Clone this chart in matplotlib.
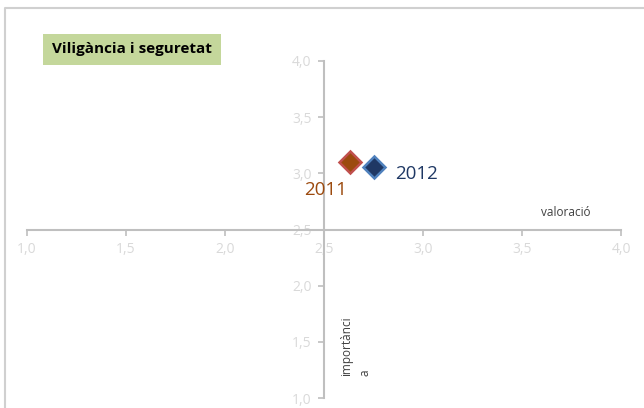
import matplotlib
matplotlib.use("Agg")
import matplotlib.pyplot as plt
from matplotlib.patches import Rectangle
from matplotlib.lines import Line2D
from matplotlib.ticker import FuncFormatter

years = ["2011", "2012"]
valoracio = [2.63, 2.75]
importancia = [3.10, 3.06]
face_colors = ["#9C4A0E", "#1F3864"]
edge_colors = ["#C0504D", "#4F81BD"]
label_colors = ["#9C4A0E", "#1F3864"]
ticks = [1.0, 1.5, 2.0, 2.5, 3.0, 3.5, 4.0]
title = "Viligància i seguretat"

plt.rcParams['font.family'] = ['Open Sans', 'DejaVu Sans']

fig = plt.figure(figsize=(6.44, 4.08), dpi=100)
ax = fig.add_axes([27/644, 1-398/408, (621-27)/644, (398-61)/408])

for x, y, fc, ec in zip(valoracio, importancia, face_colors, edge_colors):
    ax.plot([x], [y], marker='D', markersize=11, markerfacecolor=fc,
            markeredgecolor=ec, markeredgewidth=1.8, linestyle='none', zorder=5)

ax.text(valoracio[0] - 0.12, importancia[0] - 0.25, years[0], color=label_colors[0],
        fontsize=13.5, ha='center', va='center')
ax.text(valoracio[1] + 0.215, importancia[1] - 0.07, years[1], color=label_colors[1],
        fontsize=13.5, ha='center', va='center')

ax.set_xlim(1.0, 4.0)
ax.set_ylim(1.0, 4.0)
ax.set_xticks(ticks)
ax.set_yticks(ticks)
fmt = FuncFormatter(lambda v, p: f"{v:.1f}".replace('.', ','))
ax.xaxis.set_major_formatter(fmt)
ax.yaxis.set_major_formatter(fmt)

ax.spines['top'].set_visible(False)
ax.spines['right'].set_visible(False)
ax.spines['left'].set_position(('data', 2.5))
ax.spines['bottom'].set_position(('data', 2.5))
for s in ['left', 'bottom']:
    ax.spines[s].set_color('#BFBFBF')
    ax.spines[s].set_linewidth(1.5)
ax.tick_params(axis='both', colors='#BFBFBF', labelcolor='#D9D9D9',
               labelsize=10, length=4, width=1.2, direction='out')
ax.tick_params(axis='x', pad=5)
ax.tick_params(axis='y', pad=5)
ax.patch.set_alpha(0)

ax.text(3.72, 2.65, "valoració", fontsize=8.5, color='#404040', ha='center', va='center')
ax.text(2.66, 1.46, "importànci\na", fontsize=8.5, color='#404040', rotation=90,
        ha='center', va='center', multialignment='left', linespacing=1.6)

# title box
fig.add_artist(Rectangle((43/644, 1-65/408), (221-43)/644, (65-34)/408,
                         transform=fig.transFigure, facecolor='#C4D79B',
                         edgecolor='none', zorder=1))
fig.text(132/644, 1-49.5/408, title, fontsize=11, fontweight='bold',
         color='black', ha='center', va='center', zorder=2)

# outer frame (left and top)
fig.add_artist(Line2D([4.5/644, 4.5/644, 1.0], [0.0, 1-7.5/408, 1-7.5/408],
                      transform=fig.transFigure, color='#D0D0D0', linewidth=1.5))

fig.savefig("out.png", dpi=100)
